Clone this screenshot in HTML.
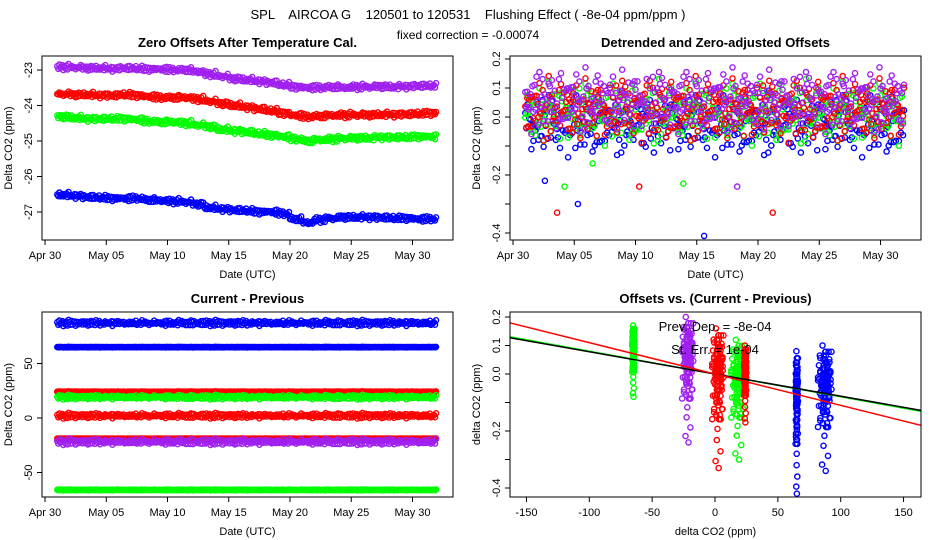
<!DOCTYPE html>
<html><head><meta charset="utf-8"><style>
html,body{margin:0;padding:0;background:#fff;}
svg{display:block;font-family:"Liberation Sans",sans-serif;}
</style></head><body>
<svg id="chart" width="936" height="540" viewBox="0 0 936 540">
<text x="468" y="19" font-size="13" text-anchor="middle" xml:space="preserve">SPL    AIRCOA G    120501 to 120531    Flushing Effect ( -8e-04 ppm/ppm )</text>
<text x="468" y="39" font-size="12" text-anchor="middle">fixed correction = -0.00074</text>
<g id="g1"></g>
<g id="g2"></g>
<g id="g3"></g>
<g id="g4"></g>
</svg>
<script>
// ---- data ----
const dateTicks = ["Apr 30","May 05","May 10","May 15","May 20","May 25","May 30"];
const dateTickDays = [0,5,10,15,20,25,30];
const seriesColors = ["#a020f0","#ff0000","#00ff00","#0000ff"];
const dayIndex = [1,2,3,4,5,6,7,8,9,10,11,12,13,14,15,16,17,18,19,20,21,22,23,24,25,26,27,28,29,30,31];
// panel 1 daily mean zero offsets (ppm)
const offPurple = [-22.92,-22.93,-22.95,-22.95,-22.97,-22.95,-22.96,-22.98,-22.98,-23.0,-23.0,-23.05,-23.12,-23.18,-23.25,-23.28,-23.32,-23.36,-23.42,-23.48,-23.5,-23.5,-23.48,-23.5,-23.48,-23.48,-23.47,-23.48,-23.47,-23.45,-23.45];
const offRed = [-23.68,-23.7,-23.7,-23.72,-23.72,-23.7,-23.72,-23.75,-23.78,-23.78,-23.78,-23.82,-23.88,-23.95,-24.0,-24.05,-24.1,-24.15,-24.22,-24.28,-24.32,-24.3,-24.28,-24.27,-24.27,-24.27,-24.26,-24.26,-24.25,-24.24,-24.22];
const offGreen = [-24.32,-24.35,-24.38,-24.38,-24.38,-24.38,-24.4,-24.45,-24.47,-24.47,-24.5,-24.55,-24.6,-24.68,-24.72,-24.75,-24.8,-24.84,-24.88,-24.95,-25.0,-24.97,-24.95,-24.93,-24.92,-24.92,-24.9,-24.9,-24.9,-24.88,-24.88];
const offBlue = [-26.52,-26.55,-26.58,-26.6,-26.62,-26.62,-26.62,-26.66,-26.68,-26.7,-26.72,-26.78,-26.88,-26.92,-26.95,-26.97,-27.0,-27.0,-27.05,-27.2,-27.3,-27.22,-27.18,-27.15,-27.15,-27.15,-27.16,-27.18,-27.18,-27.2,-27.2];
// within-day deviations (relative units)
const withinDay = [0.3,-0.5,0.8,-0.2,0.0,0.6,-0.9,0.2,-0.4,0.5,-0.7,1.0];
// panel 2 detrended means per series
const detrendMeans = [0.05,0.02,0.01,-0.03];
const detrendSpread = [0.09,0.09,0.09,0.09];
const outlierDays = [3.6,4.2,5.3,13.9,15.6,18.3,21.2,2.6,6.5,10.3];
const outlierVals = [-0.33,-0.24,-0.3,-0.23,-0.41,-0.24,-0.33,-0.22,-0.16,-0.24];
const outlierSeries = [1,2,3,2,3,0,1,3,2,1];
// panel 3 current-previous levels
const cpLevels = [[87],[65],[24],[19],[2],[-19],[-22],[-66]];
const cpColors = ["#0000ff","#0000ff","#ff0000","#00ff00","#ff0000","#ff0000","#a020f0","#00ff00"];
const cpSpread = [2,0.2,0.3,1.5,1.8,0.2,2,0.3];
// panel 4 clusters
const clX = [-65,-22,2,18,24,65,87];
const clYmin = [-0.08,-0.24,-0.33,-0.3,-0.17,-0.42,-0.34];
const clYmax = [0.17,0.2,0.16,0.12,0.1,0.08,0.1];
const clColor = ["#00ff00","#a020f0","#ff0000","#00ff00","#ff0000","#0000ff","#0000ff"];
const clXSpread = [1,5,5,6,1,1,6];
const fitSlopes = [-8e-4,-7.8e-4,-1.1e-3];
const fitIntercepts = [0.0,0.0,0.0];
const fitColors = ["#00ff00","#000000","#ff0000"];
const statsText = ["Prev. Dep. =  -8e-04","St. Err. =  1e-04"];

// ---- helpers ----
const NS="http://www.w3.org/2000/svg";
function mk(tag,parent,attrs){const e=document.createElementNS(NS,tag);for(const k in attrs)e.setAttribute(k,attrs[k]);parent.appendChild(e);return e;}
function circle(g,x,y,c){const e=mk("circle",g,{cx:x.toFixed(1),cy:y.toFixed(1),r:2.6,fill:"none",stroke:c,"stroke-width":1.4});

return e;}
function frame(g,L,T,R,B,title,xlabel,ylabel){
 const r=mk("rect",g,{x:L,y:T,width:R-L,height:B-T,fill:"none",stroke:"#000","stroke-width":1});
 
 
 const t=mk("text",g,{x:(L+R)/2,y:T-9,"font-size":13,"font-weight":"bold","text-anchor":"middle"});t.textContent=title;
 
 
 const xl=mk("text",g,{x:(L+R)/2,y:B+38,"font-size":11,"text-anchor":"middle"});xl.textContent=xlabel;
 
 
 const yl=mk("text",g,{x:0,y:0,"font-size":11,"text-anchor":"middle",transform:`translate(${L-30},${(T+B)/2}) rotate(-90)`});yl.textContent=ylabel;
 
 
}
function xTicks(g,B,pos,labels){pos.forEach((p,i)=>{mk("line",g,{x1:p,x2:p,y1:B,y2:B+5,stroke:"#000"});
 if(labels[i]!==""){const t=mk("text",g,{x:p,y:B+19,"font-size":11,"text-anchor":"middle"});t.textContent=labels[i];
 
 }});}
function yTicks(g,L,pos,labels){pos.forEach((p,i)=>{mk("line",g,{x1:L-5,x2:L,y1:p,y2:p,stroke:"#000"});
 if(labels[i]!==""){const t=mk("text",g,{x:0,y:0,"font-size":11,"text-anchor":"middle",transform:`translate(${L-10},${p}) rotate(-90)`});t.textContent=labels[i];
 
 }});}

// ---- panel 1 ----
(function(){
 const g=document.getElementById("g1");const L=42,T=56,R=453,B=240;
 const X=d=>45+d*12.25, Y=v=>70+(-23-v)*35.5;
 const sets=[offPurple,offRed,offGreen,offBlue];
 const pg=mk("g",g,{});
 sets.forEach((s,si)=>{s.forEach((m,di)=>{withinDay.forEach((w,k)=>{
   const d=dayIndex[di]+k/withinDay.length; const v=m+w*0.06+withinDay[(k+di+si)%12]*0.03;
   circle(pg,X(d),Y(v),seriesColors[si]);});});});
 frame(g,L,T,R,B,"Zero Offsets After Temperature Cal.","Date (UTC)","Delta CO2 (ppm)");
 xTicks(g,B,dateTickDays.map(X),dateTicks);
 yTicks(g,L,[-23,-24,-25,-26,-27].map(Y),["-23","-24","-25","-26","-27"]);
})();
// ---- panel 2 ----
(function(){
 const g=document.getElementById("g2");const L=510,T=56,R=921,B=240;
 const X=d=>513+d*12.25, Y=v=>117-v*290;
 const pg=mk("g",g,{});
 [3,2,1,0].forEach(si=>{dayIndex.forEach((day,di)=>{withinDay.forEach((w,k)=>{
   const d=day+k/withinDay.length; const v=detrendMeans[si]+w*detrendSpread[si]*0.9+withinDay[(k*5+di+si*3)%12]*0.04;
   circle(pg,X(d),Y(v),seriesColors[si]);});});});
 outlierDays.forEach((d,i)=>circle(pg,X(d),Y(outlierVals[i]),seriesColors[outlierSeries[i]]));
 frame(g,L,T,R,B,"Detrended and Zero-adjusted Offsets","Date (UTC)","Delta CO2 (ppm)");
 xTicks(g,B,dateTickDays.map(X),dateTicks);
 yTicks(g,L,[0.2,0.1,0,-0.1,-0.2,-0.3,-0.4].map(Y),["0.2","0.1","0.0","","-0.2","","-0.4"]);
})();
// ---- panel 3 ----
(function(){
 const g=document.getElementById("g3");const L=42,T=312,R=453,B=497;
 const X=d=>45+d*12.25, Y=v=>418-v*1.09;
 const pg=mk("g",g,{});
 cpLevels.forEach((lv,li)=>{dayIndex.forEach((day,di)=>{withinDay.forEach((w,k)=>{
   const d=day+k/withinDay.length; const v=lv[0]+w*cpSpread[li]+withinDay[(k+di*7)%12]*cpSpread[li]*0.5;
   circle(pg,X(d),Y(v),cpColors[li]);});});});
 frame(g,L,T,R,B,"Current - Previous","Date (UTC)","Delta CO2 (ppm)");
 xTicks(g,B,dateTickDays.map(X),dateTicks);
 yTicks(g,L,[50,0,-50].map(Y),["50","0","-50"]);
})();
// ---- panel 4 ----
(function(){
 const g=document.getElementById("g4");const L=510,T=312,R=921,B=497;
 const X=v=>715+v*1.257, Y=v=>374-v*285;
 const pg=mk("g",g,{});
 const fr=[0.0,0.05,0.12,0.2,0.28,0.35,0.4,0.45,0.5,0.55,0.6,0.63,0.66,0.7,0.74,0.78,0.82,0.86,0.9,0.95,1.0,0.48,0.52,0.58,0.62,0.68,0.72,0.56,0.64,0.7];
 const xo=[0,0.7,-0.6,0.4];
 clX.forEach((cx,ci)=>{xo.forEach((o,j)=>{fr.forEach((f,k)=>{
   const x=cx+(withinDay[(k+j*3)%12]*0.6+o*0.5)*clXSpread[ci]; const y=clYmin[ci]+(clYmax[ci]-clYmin[ci])*(j===0?f:(0.35+0.6*f));
   circle(pg,X(x),Y(y),clColor[ci]);});});});
 const cp=mk("clipPath",g,{id:"c4"});mk("rect",cp,{x:L,y:T,width:R-L,height:B-T});
 const lg=mk("g",g,{"clip-path":"url(#c4)"});
 fitSlopes.forEach((s,i)=>{const l=mk("line",lg,{x1:X(-170),y1:Y(fitIntercepts[i]+s*-170),x2:X(170),y2:Y(fitIntercepts[i]+s*170),stroke:fitColors[i],"stroke-width":1.5});
  
  });
 statsText.forEach((s,i)=>{const t=mk("text",g,{x:715,y:331+i*23,"font-size":13,"text-anchor":"middle"});t.textContent=s;
  
  });
 frame(g,L,T,R,B,"Offsets vs. (Current - Previous)","delta CO2 (ppm)","delta CO2 (ppm)");
 xTicks(g,B,[-150,-100,-50,0,50,100,150].map(X),["-150","-100","-50","0","50","100","150"]);
 yTicks(g,L,[0.2,0.1,0,-0.1,-0.2,-0.3,-0.4].map(Y),["0.2","0.1","0.0","","-0.2","","-0.4"]);
})();
</script>
</body></html>
